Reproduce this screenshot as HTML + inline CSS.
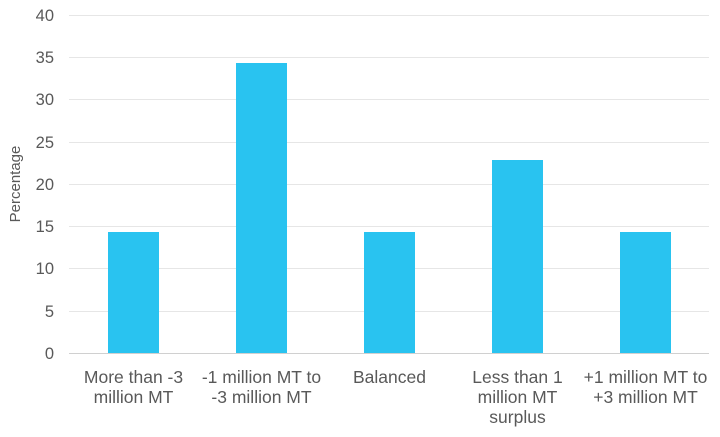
<!DOCTYPE html>
<html><head><style>body{margin:0;background:#fff}</style></head><body>
<svg width="720" height="432" xmlns="http://www.w3.org/2000/svg" font-family="Liberation Sans, sans-serif" fill="#595959">
<g stroke="#e6e6e6" stroke-width="1">
<line x1="69" x2="709" y1="15.5" y2="15.5"/><line x1="69" x2="709" y1="57.5" y2="57.5"/>
<line x1="69" x2="709" y1="99.5" y2="99.5"/><line x1="69" x2="709" y1="142.5" y2="142.5"/>
<line x1="69" x2="709" y1="184.5" y2="184.5"/><line x1="69" x2="709" y1="226.5" y2="226.5"/>
<line x1="69" x2="709" y1="268.5" y2="268.5"/><line x1="69" x2="709" y1="311.5" y2="311.5"/>
</g>
<line x1="69" x2="709" y1="353.5" y2="353.5" stroke="#d0d0d0"/>
<g font-size="16.5" text-anchor="end">
<text x="54" y="21">40</text><text x="54" y="63">35</text><text x="54" y="105">30</text>
<text x="54" y="148">25</text><text x="54" y="190">20</text><text x="54" y="232">15</text>
<text x="54" y="274">10</text><text x="54" y="317">5</text><text x="54" y="359">0</text>
</g>
<text transform="translate(20,184) rotate(-90)" font-size="15" text-anchor="middle">Percentage</text>
<g fill="#29c3f0">
<rect x="108" y="232" width="51" height="121"/>
<rect x="236" y="63" width="51" height="290"/>
<rect x="364" y="232" width="51" height="121"/>
<rect x="492" y="160" width="51" height="193"/>
<rect x="620" y="232" width="51" height="121"/>
</g>
<g font-size="17.5" text-anchor="middle">
<text x="133.5" y="383">More than -3</text><text x="133.5" y="403">million MT</text>
<text x="261.5" y="383">-1 million MT to</text><text x="261.5" y="403">-3 million MT</text>
<text x="389.5" y="383">Balanced</text>
<text x="517.5" y="383">Less than 1</text><text x="517.5" y="403">million MT</text><text x="517.5" y="423">surplus</text>
<text x="645.5" y="383">+1 million MT to</text><text x="645.5" y="403">+3 million MT</text>
</g>
</svg>
</body></html>
